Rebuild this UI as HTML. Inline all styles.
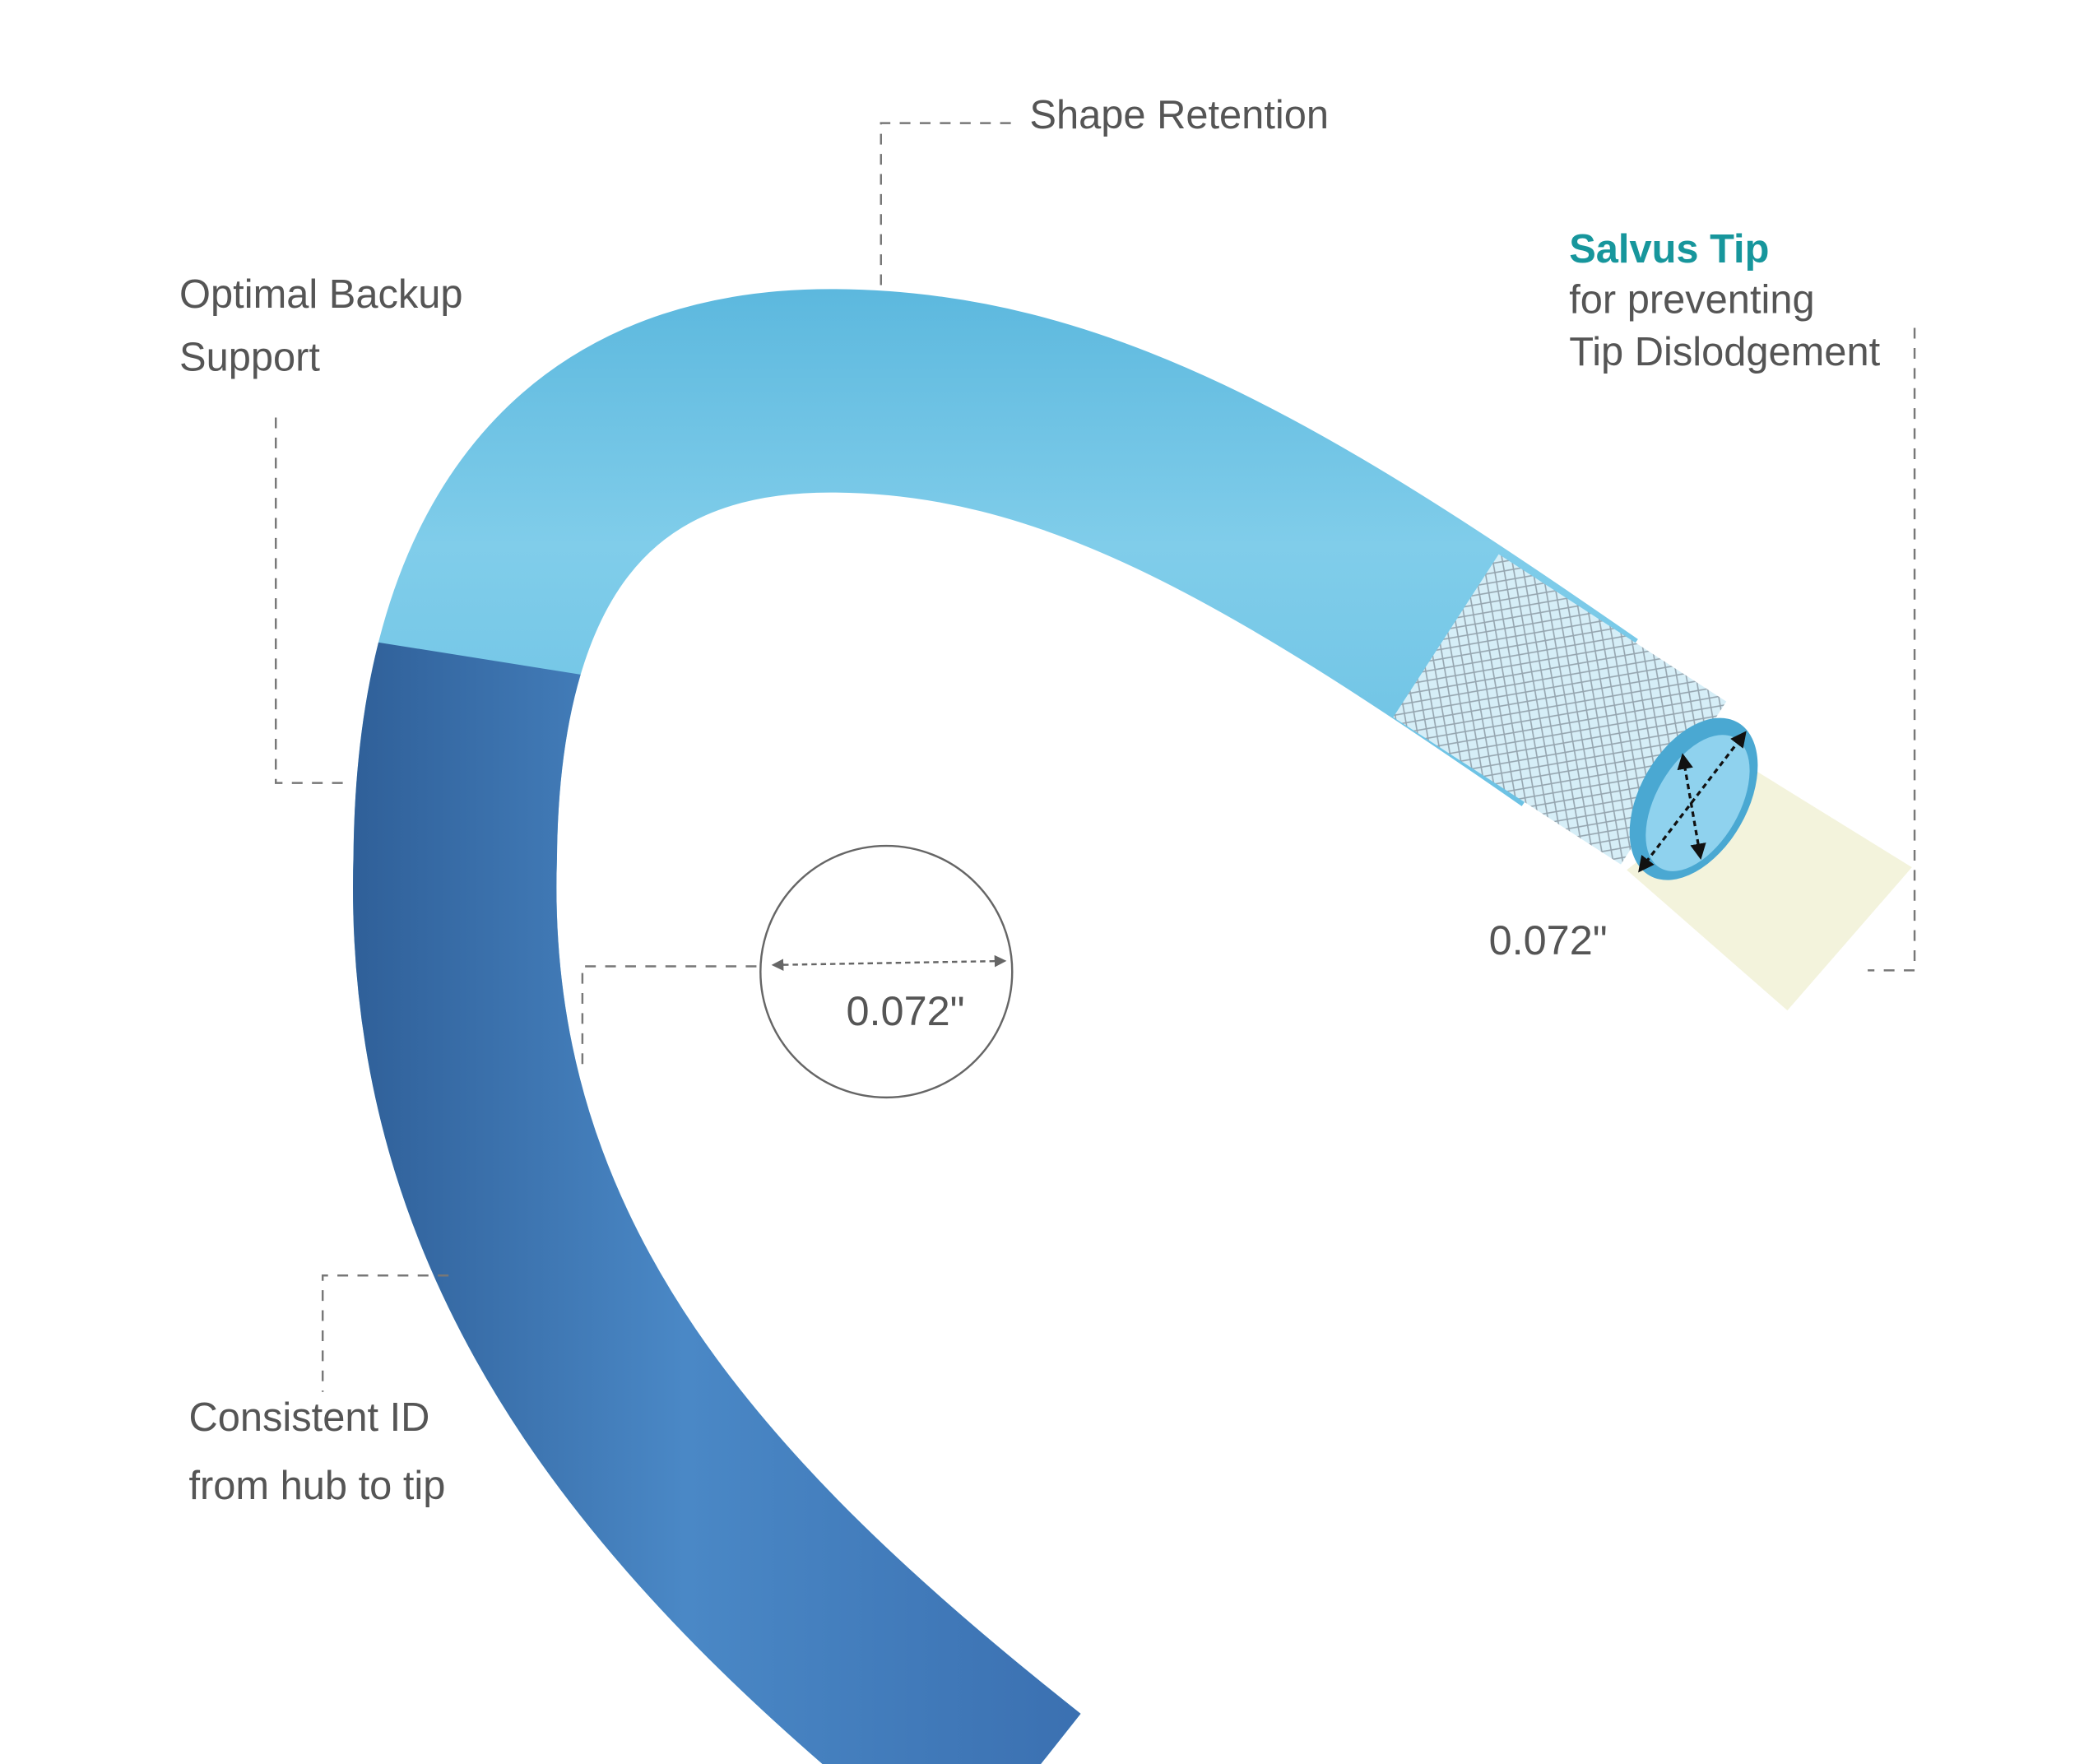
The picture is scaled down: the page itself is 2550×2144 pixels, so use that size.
<!DOCTYPE html>
<html><head><meta charset="utf-8"><style>
html,body{margin:0;padding:0;background:#fff}
svg{display:block}
text{font-family:"Liberation Sans",Arial,sans-serif;fill:#555}
</style></head><body>
<svg width="2550" height="2144" viewBox="0 0 1567 1318" preserveAspectRatio="none" xmlns="http://www.w3.org/2000/svg">
<defs>
<linearGradient id="dk" gradientUnits="userSpaceOnUse" x1="260" y1="0" x2="820" y2="0">
<stop offset="0" stop-color="#2f5f98"/><stop offset="0.45" stop-color="#4a88c6"/><stop offset="1" stop-color="#3a6fb0"/>
</linearGradient>
<linearGradient id="lt" gradientUnits="userSpaceOnUse" x1="0" y1="215" x2="0" y2="600">
<stop offset="0" stop-color="#5cb8de"/><stop offset="0.5" stop-color="#80cdea"/><stop offset="1" stop-color="#6cc2e4"/>
</linearGradient>
<pattern id="mesh" width="10" height="10" patternUnits="userSpaceOnUse" patternTransform="rotate(35)">
<rect width="10" height="10" fill="#d6eef7"/>
<path d="M0 0L10 10M10 0L0 10" stroke="#95a5af" stroke-width="1"/>
</pattern>
<clipPath id="dkclip"><path d="M0 435 L440 505 L900 700 L900 1400 L0 1400 Z"/></clipPath>
<marker id="ah" viewBox="0 0 10 10" refX="8" refY="5" markerWidth="6" markerHeight="6" orient="auto-start-reverse"><path d="M0 0L10 5L0 10z" fill="#666"/></marker>
<marker id="ab" viewBox="0 0 10 10" refX="8" refY="5" markerWidth="6" markerHeight="6" orient="auto-start-reverse"><path d="M0 0L10 5L0 10z" fill="#111"/></marker>
</defs>

<path d="M760 1340 C 520 1150, 330 950, 340 640 C 342 420, 430 292, 620 292 C 800 292, 950 380, 1180 540" fill="none" stroke="url(#lt)" stroke-width="152"/>
<path d="M1080 475 L1250 585" fill="none" stroke="url(#mesh)" stroke-width="145"/>
<path d="M1215 650 L1335 755 L1428 648 L1310 575 Z" fill="#f3f3dc"/>
<ellipse cx="1265" cy="597" rx="40" ry="66" transform="rotate(30 1265 597)" fill="#4aa8d2"/>
<ellipse cx="1268" cy="600" rx="31" ry="56" transform="rotate(30 1268 600)" fill="#8fd2ee"/>
<path clip-path="url(#dkclip)" d="M760 1340 C 520 1150, 330 950, 340 640 C 342 420, 430 292, 620 292" fill="none" stroke="url(#dk)" stroke-width="152"/>

<line x1="1225" y1="650" x2="1303" y2="548" stroke="#111" stroke-width="2" stroke-dasharray="4 3" marker-start="url(#ab)" marker-end="url(#ab)"/>
<line x1="1257" y1="565" x2="1270" y2="640" stroke="#111" stroke-width="2" stroke-dasharray="4 3" marker-start="url(#ab)" marker-end="url(#ab)"/>

<g fill="none" stroke="#777" stroke-width="1.5" stroke-dasharray="8 7">
<path d="M658 213 L658 92 L760 92"/>
<path d="M206 312 L206 585 L260 585"/>
<path d="M335 953 L241 953 L241 1040"/>
<path d="M435 795 L435 722 L565 722"/>
<path d="M1430 245 L1430 725 L1395 725"/>
</g>
<circle cx="662" cy="726" r="94" fill="none" stroke="#666" stroke-width="1.5"/>
<line x1="578" y1="721" x2="750" y2="718" stroke="#666" stroke-width="1.5" stroke-dasharray="4 3" marker-start="url(#ah)" marker-end="url(#ah)"/>

<text x="769" y="96" font-size="30">Shape Retention</text>
<text x="134" y="230" font-size="30">Optimal Backup</text>
<text x="134" y="277" font-size="30">Support</text>
<text x="141" y="1069" font-size="30">Consistent ID</text>
<text x="141" y="1120" font-size="30">from hub to tip</text>
<text x="1172" y="196" font-size="30" font-weight="bold" style="fill:#17969c">Salvus Tip</text>
<text x="1172" y="234" font-size="30">for preventing</text>
<text x="1172" y="273" font-size="30">Tip Dislodgement</text>
<text x="632" y="766" font-size="31">0.072"</text>
<text x="1112" y="713" font-size="31">0.072"</text>
</svg>
</body></html>
